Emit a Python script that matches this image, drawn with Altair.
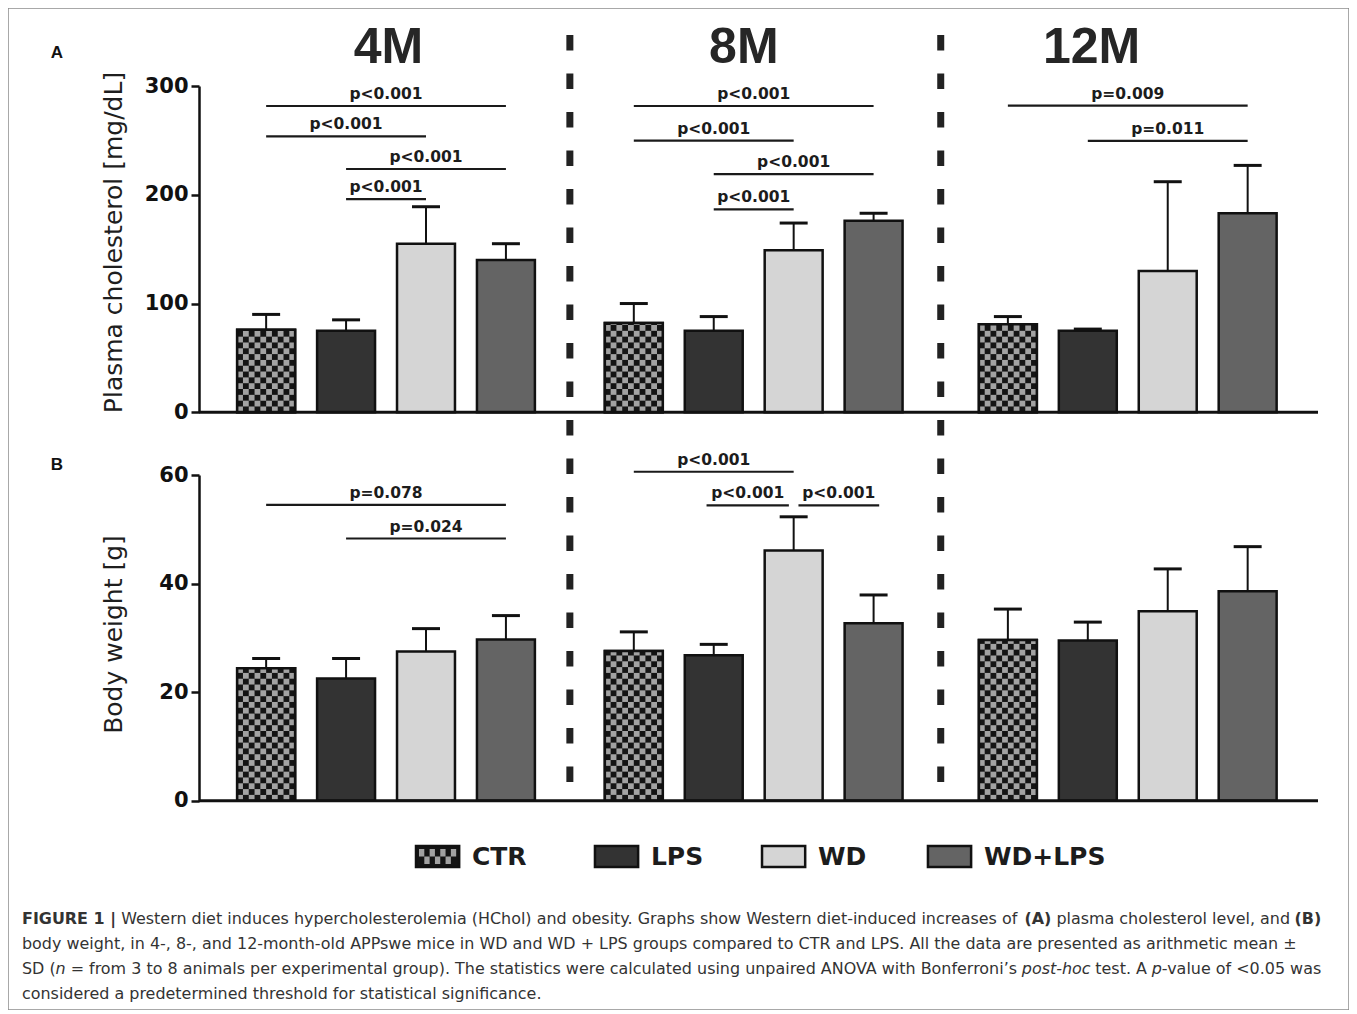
import altair as alt
import pandas as pd

# ---------------- data ----------------
groups = ["4M", "8M", "12M"]
treatments = ["CTR", "LPS", "WD", "WD+LPS"]

chol_mean = [[76, 75, 155, 140], [82, 75, 149, 176], [81, 75, 130, 183]]
chol_sd = [[14, 10, 34, 15], [18, 13, 25, 7], [7, 1.5, 82, 44]]
bw_mean = [[24.4, 22.5, 27.5, 29.7], [27.6, 26.8, 46.1, 32.7], [29.6, 29.5, 34.9, 38.6]]
bw_sd = [[1.8, 3.7, 4.2, 4.4], [3.5, 2.0, 6.2, 5.2], [5.7, 3.4, 7.8, 8.2]]

chol_ticks = [0, 100, 200, 300]
bw_ticks = [0, 20, 40, 60]

# significance brackets: group, from bar, to bar, height, label
chol_brackets = [
    (0, 0, 3, 281.6, "p<0.001"), (0, 0, 2, 253.7, "p<0.001"),
    (0, 1, 3, 223.7, "p<0.001"), (0, 1, 2, 196.0, "p<0.001"),
    (1, 0, 3, 281.6, "p<0.001"), (1, 0, 2, 249.7, "p<0.001"),
    (1, 1, 3, 219.0, "p<0.001"), (1, 1, 2, 186.6, "p<0.001"),
    (2, 0, 3, 282.0, "p=0.009"), (2, 1, 3, 249.5, "p=0.011"),
]
bw_brackets = [
    (0, 0, 3, 54.5, "p=0.078"), (0, 1, 3, 48.3, "p=0.024"),
    (1, 0, 2, 60.6, "p<0.001"), (1, 0.91, 1.94, 54.4, "p<0.001"),
    (1, 2.06, 3.07, 54.4, "p<0.001"),
]

y_title_chol = "Plasma cholesterol [mg/dL]"
y_title_bw = "Body weight [g]"
panel_labels = ["A", "B"]

caption_lines = [
    [("FIGURE 1 |", "b"), (" Western diet induces hypercholesterolemia (HChol) and obesity. Graphs show Western diet-induced increases of ", "r"),
     ("(A)", "b"), (" plasma cholesterol level, and ", "r"), ("(B)", "b")],
    [("body weight, in 4-, 8-, and 12-month-old APPswe mice in WD and WD + LPS groups compared to CTR and LPS. All the data are presented as arithmetic mean ±", "r")],
    [("SD (", "r"), ("n", "i"), (" = from 3 to 8 animals per experimental group). The statistics were calculated using unpaired ANOVA with Bonferroni\u2019s ", "r"),
     ("post-hoc", "i"), (" test. A ", "r"), ("p", "i"), ("-value of <0.05 was", "r")],
    [("considered a predetermined threshold for statistical significance.", "r")],
]

# ---------------- layout / style ----------------
GROUP_START = [0.84, 5.44, 10.12]
GROUP_TITLE_X = [2.365, 6.81, 11.16]
LEGEND_X = [2.715, 4.954, 7.044, 9.12]
BAR_HALF = 0.3625
CAP_HALF = 0.175
NCOLS = 10
CELL_W = 2 * BAR_HALF / NCOLS
INK = "#111111"
TXT = "#1c1c1c"
CHECK_GRAY = "#a2a2a2"
FILLS = ["#141414", "#333333", "#d5d5d5", "#646464"]

xs = alt.Scale(domain=[0, 14], range=[191, 1310], nice=False, zero=False)
ys_c = alt.Scale(domain=[0, 300], range=[404.3, 78], nice=False, zero=False)
ys_b = alt.Scale(domain=[0, 60], range=[792.7, 467], nice=False, zero=False)
ys_l = alt.Scale(domain=[0, 1], range=[859, 838], nice=False, zero=False)
fill_scale = alt.Scale(domain=treatments, range=FILLS)

rows = []
for g, gname in enumerate(groups):
    for i, t in enumerate(treatments):
        p = GROUP_START[g] + i
        rows.append({"group": gname, "treat": t, "pos": p, "x0": p - BAR_HALF, "x1": p + BAR_HALF,
                     "cl": p - CAP_HALF, "cr": p + CAP_HALF, "zero": 0,
                     "chol": chol_mean[g][i], "chol_top": chol_mean[g][i] + chol_sd[g][i],
                     "bw": bw_mean[g][i], "bw_top": bw_mean[g][i] + bw_sd[g][i]})
df = pd.DataFrame(rows)


def bracket_df(brs):
    out = []
    for g, a, b, h, lab in brs:
        xa = GROUP_START[g] + a
        xb = GROUP_START[g] + b
        out.append({"xa": xa, "xb": xb, "xm": (xa + xb) / 2, "h": h, "label": lab})
    return pd.DataFrame(out)


def y_axis(values, title, title_y):
    return alt.Axis(orient="left", offset=-191, values=values, title=title,
                    titleX=-86, titleY=title_y, titleAngle=270, titleAlign="center",
                    titleBaseline="middle", titleFont="DejaVu Sans", titleFontSize=25,
                    titleFontWeight="normal", titleColor="#1e1e1e",
                    labelFont="DejaVu Sans", labelFontSize=21, labelFontWeight="bold",
                    labelColor=INK, labelPadding=3, labelFlush=False,
                    tickSize=8, tickWidth=2.5, tickColor=INK,
                    domainColor=INK, domainWidth=2.5, grid=False)


title_axis = alt.Axis(orient="top", offset=-54, values=GROUP_TITLE_X,
                      labelExpr="datum.value < 4.6 ? '4M' : (datum.value < 9.3 ? '8M' : '12M')",
                      domain=False, ticks=False, grid=False, labelFont="Liberation Sans",
                      labelFontSize=50, labelFontWeight="bold", labelColor="#262626",
                      labelPadding=0, labelBaseline="alphabetic", labelFlush=False,
                      labelOverlap=False, title=None)


def panel(value, top, ys, axis, cell_h, brackets, x_axis=None, extra=()):
    base = alt.Chart(df)

    def X(f, ax=None):
        return alt.X(f, scale=xs, axis=ax)

    def Y(f):
        return alt.Y(f, scale=ys, axis=None)

    bars = base.mark_rect(stroke=INK, strokeWidth=2.5).encode(
        x=X("x0:Q"), x2="x1:Q",
        y=alt.Y(f"{value}:Q", scale=ys, axis=axis), y2="zero:Q",
        fill=alt.Fill("treat:N", scale=fill_scale, legend=None))
    cells = base.transform_filter("datum.treat == 'CTR'").transform_calculate(
        r=f"sequence(0, ceil(datum.{value} / {cell_h}))"
    ).transform_flatten(["r"]).transform_calculate(
        c=f"sequence(0, {NCOLS})"
    ).transform_flatten(["c"]).transform_filter(
        "(datum.r + datum.c) % 2 == 0"
    ).transform_calculate(
        cx0=f"datum.x0 + datum.c * {CELL_W}",
        cx1=f"datum.x0 + (datum.c + 1) * {CELL_W}",
        cy0=f"datum.r * {cell_h}",
        cy1=f"min(datum.{value}, (datum.r + 1) * {cell_h})",
    ).mark_rect(fill=CHECK_GRAY).encode(x=X("cx0:Q"), x2="cx1:Q", y=Y("cy0:Q"), y2="cy1:Q")
    outline = base.transform_filter("datum.treat == 'CTR'").mark_rect(
        fill="#000000", fillOpacity=0, stroke=INK, strokeWidth=2.5).encode(
        x=X("x0:Q"), x2="x1:Q", y=Y(f"{value}:Q"), y2="zero:Q")
    stems = base.mark_rule(color=INK, strokeWidth=2).encode(
        x=X("pos:Q"), y=Y(f"{value}:Q"), y2=f"{top}:Q")
    caps = base.mark_rule(color=INK, strokeWidth=3).encode(
        x=X("cl:Q"), x2="cr:Q", y=Y(f"{top}:Q"))
    base_line = alt.Chart(pd.DataFrame({"a": [0], "b": [14], "v": [0]})).mark_rule(
        color=INK, strokeWidth=3).encode(x=X("a:Q", x_axis), x2="b:Q", y=Y("v:Q"))
    bdf = bracket_df(brackets)
    blines = alt.Chart(bdf).mark_rule(color="#1a1a1a", strokeWidth=2.2).encode(
        x=X("xa:Q"), x2="xb:Q", y=Y("h:Q"))
    blabels = alt.Chart(bdf).mark_text(font="DejaVu Sans", fontSize=15.5, fontWeight="bold",
                                       color=TXT, align="center", baseline="alphabetic",
                                       dy=-7).encode(x=X("xm:Q"), y=Y("h:Q"), text="label:N")
    return alt.layer(bars, cells, outline, stems, caps, base_line, blines, blabels, *extra).resolve_axis(
        x="independent", y="independent")


# dashed separators, midway between groups
sep_df = pd.DataFrame({"xs": [(GROUP_START[g] + 3 + GROUP_START[g + 1]) / 2 for g in range(2)]})
separators = alt.Chart(sep_df).mark_rule(color="#222222", strokeWidth=7, strokeDash=[15.5, 23]).encode(
    x=alt.X("xs:Q", scale=xs, axis=None), y=alt.value(27), y2=alt.value(775))

panel_c = panel("chol", "chol_top", ys_c, y_axis(chol_ticks, y_title_chol, 234), 5.35,
                chol_brackets, x_axis=title_axis, extra=(separators,))
panel_b = panel("bw", "bw_top", ys_b, y_axis(bw_ticks, y_title_bw, 626), 1.07, bw_brackets)

# ---------------- legend ----------------
LEG_W = 0.54
leg_df = pd.DataFrame({"treat": treatments, "lx0": LEGEND_X})
leg_df["lx1"] = leg_df["lx0"] + LEG_W
leg_df["tx"] = leg_df["lx0"] + 0.70
leg_df["y0"] = 0
leg_df["y1"] = 1
leg_df["ym"] = 0.5
lbase = alt.Chart(leg_df)
leg_sym = lbase.mark_rect(stroke=INK, strokeWidth=2.5).encode(
    x=alt.X("lx0:Q", scale=xs, axis=None), x2="lx1:Q",
    y=alt.Y("y0:Q", scale=ys_l, axis=None), y2="y1:Q",
    fill=alt.Fill("treat:N", scale=fill_scale, legend=None))
LIX, LCW, LIY, LCH = 0.0375, (LEG_W - 0.075) / 7, 0.143, 0.357
leg_cells = lbase.transform_filter("datum.treat == 'CTR'").transform_calculate(
    r="sequence(0, 2)").transform_flatten(["r"]).transform_calculate(
    c="sequence(0, 7)").transform_flatten(["c"]).transform_filter(
    "(datum.r + datum.c) % 2 == 1").transform_calculate(
    cx0=f"datum.lx0 + {LIX} + datum.c * {LCW}",
    cx1=f"datum.lx0 + {LIX} + (datum.c + 1) * {LCW}",
    cy0=f"{LIY} + datum.r * {LCH}",
    cy1=f"{LIY} + (datum.r + 1) * {LCH}",
).mark_rect(fill=CHECK_GRAY).encode(
    x=alt.X("cx0:Q", scale=xs, axis=None), x2="cx1:Q",
    y=alt.Y("cy0:Q", scale=ys_l, axis=None), y2="cy1:Q")
leg_text = lbase.mark_text(font="DejaVu Sans", fontSize=25, fontWeight="bold", color=TXT,
                           align="left", baseline="middle").encode(
    x=alt.X("tx:Q", scale=xs, axis=None), y=alt.Y("ym:Q", scale=ys_l, axis=None), text="treat:N")
legend_group = alt.layer(leg_sym, leg_cells, leg_text).resolve_axis(x="independent", y="independent")

# ---------------- annotations ----------------
annots = []
for lab, ly in zip(panel_labels, [50, 462]):
    annots.append(alt.Chart(pd.DataFrame({"t": [lab]})).mark_text(
        font="Liberation Sans", fontSize=17, fontWeight="bold", color=INK,
        align="center", baseline="alphabetic").encode(x=alt.value(49), y=alt.value(ly), text="t:N"))

DJ = {' ': .318, '(': .390, ')': .390, '.': .318, ',': .318, '-': .361, '+': .838, '\u00b1': .838,
      '=': .838, '<': .838, '\u2019': .318, '|': .337,
      'A': .684, 'B': .686, 'C': .698, 'D': .770, 'E': .632, 'F': .575, 'G': .775, 'H': .752,
      'I': .295, 'L': .557, 'N': .748, 'O': .787, 'P': .603, 'R': .695, 'S': .635, 'T': .611,
      'U': .732, 'V': .684, 'W': .989,
      'a': .613, 'b': .635, 'c': .550, 'd': .635, 'e': .615, 'f': .352, 'g': .635, 'h': .634,
      'i': .278, 'j': .278, 'k': .579, 'l': .278, 'm': .974, 'n': .634, 'o': .612, 'p': .635,
      'q': .635, 'r': .411, 's': .521, 't': .392, 'u': .634, 'v': .592, 'w': .818, 'x': .592,
      'y': .592, 'z': .525}
for d in "0123456789":
    DJ[d] = .636
DJB = {' ': .348, '(': .457, ')': .457, 'A': .774, 'B': .762, 'E': .683, 'F': .683, 'G': .821,
       'I': .372, 'R': .770, 'U': .812, '1': .696, '|': .366}
CAP_SIZE = 15.95


def text_w(s, style):
    if style == "b":
        return sum(DJB.get(ch, 0.7) for ch in s) * CAP_SIZE
    return sum(DJ.get(ch, 0.62) for ch in s) * CAP_SIZE * 0.995


CAP_Y = [915.5, 940.5, 965.5, 990.5]
for line, cy in zip(caption_lines, CAP_Y):
    cx = 14.0
    for seg, style in line:
        lead = len(seg) - len(seg.lstrip(" "))
        xdraw = cx + text_w(" " * lead, style)
        annots.append(alt.Chart(pd.DataFrame({"t": [seg.strip()]})).mark_text(
            font="DejaVu Sans", fontSize=CAP_SIZE,
            fontWeight="bold" if style == "b" else "normal",
            fontStyle="italic" if style == "i" else "normal",
            color="#333333", align="left", baseline="alphabetic").encode(
            x=alt.value(round(xdraw, 2)), y=alt.value(cy), text="t:N"))
        cx += text_w(seg, style)

chart = alt.layer(panel_c, panel_b, legend_group, *annots).resolve_scale(
    y="independent").resolve_axis(x="independent", y="independent").properties(
    width=1341, height=1002, padding=0).configure_view(stroke="#8c8c8c", strokeWidth=1.5)

chart.save("out.html", embed_options={"renderer": "svg", "actions": False})
